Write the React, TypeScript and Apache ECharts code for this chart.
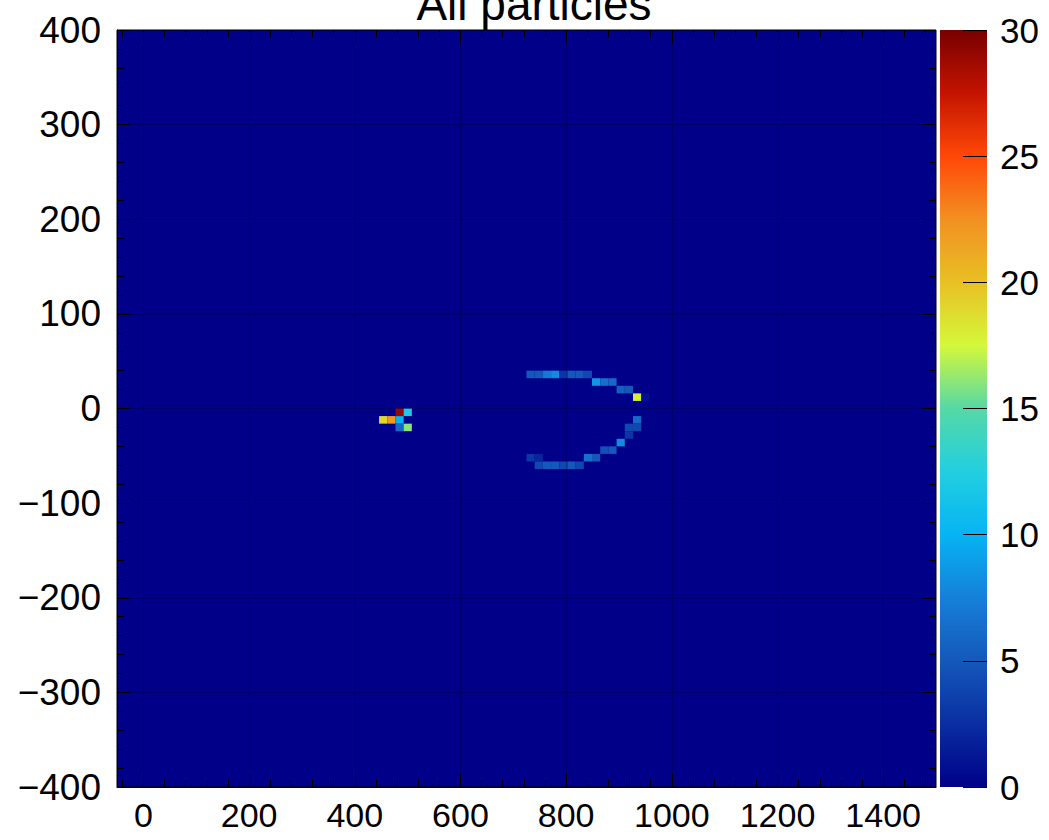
import React, { useEffect, useRef } from "react";
import * as echarts from "echarts";

// Histogram binning (axis definitions)
const X_MIN = -50;
const X_MAX = 1500;
const X_BINS = 100;
const Y_MIN = -400;
const Y_MAX = 400;
const Y_BINS = 100;

// Tick labels
const xMajorTicks = [0, 200, 400, 600, 800, 1000, 1200, 1400];
const xMinorTicks = [-40, 40, 80, 120, 160, 240, 280, 320, 360, 440, 480, 520, 560, 640, 680, 720, 760, 840, 880, 920, 960, 1040, 1080, 1120, 1160, 1240, 1280, 1320, 1360, 1440, 1480];
const colorbarMax = 30;

// Non-empty cells: bin indices and counts
const cellBinX = [32, 33, 34, 34, 35, 34, 35,
  50, 51, 52, 53, 54, 55, 56, 57,
  58, 59, 60,
  61, 62,
  63, 64,
  63,
  62, 63,
  62,
  61,
  59, 60,
  50, 51, 57, 58,
  51, 52, 53, 54, 55, 56];
const cellBinY = [48, 48, 48, 49, 49, 47, 47,
  54, 54, 54, 54, 54, 54, 54, 54,
  53, 53, 53,
  52, 52,
  51, 51,
  48,
  47, 47,
  46,
  45,
  44, 44,
  43, 43, 43, 43,
  42, 42, 42, 42, 42, 42];
const cellCount = [19, 22, 10, 29, 12, 6, 16,
  5, 5, 7, 8, 3, 5, 5, 4,
  8.5, 6.5, 6,
  5.5, 5,
  18, 1,
  6,
  4, 4,
  3,
  8,
  4.5, 5,
  3, 2, 6.5, 5,
  4, 5, 5, 4, 5, 4];

const palette = [
  "#000088", "#0a2ea2", "#1458ba", "#1680d8", "#06b4f4", "#22cfe0",
  "#55d9a6", "#d4f83a", "#e8c024", "#f29022", "#ff4808", "#c41400", "#780000",
];

const FONT = "Liberation Sans";
const minus = (v: number | string) => String(v).replace("-", "\u2212");

export default function App() {
  const ref = useRef<HTMLDivElement>(null);
  useEffect(() => {
    document.body.style.margin = "0";
    const chart = echarts.init(ref.current!, null, { renderer: "svg" });
    const dx = (X_MAX - X_MIN) / X_BINS;
    const dy = (Y_MAX - Y_MIN) / Y_BINS;
    const data = cellCount.map((c, k) => [X_MIN + cellBinX[k] * dx, Y_MIN + cellBinY[k] * dy, c]);

    const tickStyle = { color: "#000", width: 1 };
    const splitStyle = { color: "rgba(0,0,0,0.2)", width: 1 };
    const noLine = { show: false, onZero: false };

    const option: any = {
      animation: false,
      backgroundColor: "#fff",
      title: {
        text: "All particles",
        left: 529,
        textAlign: "center",
        top: -24,
        textStyle: { fontFamily: FONT, fontSize: 46, fontWeight: "normal", color: "#000" },
      },
      grid: [
        { left: 117, right: 113, top: 30, bottom: 53, show: true, backgroundColor: "#000088", borderColor: "#000", borderWidth: 1 },
        { left: 940, width: 47, top: 30, bottom: 53, show: false },
      ],
      xAxis: [
        {
          type: "value", gridIndex: 0, min: X_MIN, max: X_MAX, position: "bottom", z: 10,
          axisLine: { show: true, onZero: false, lineStyle: { color: "#000" } },
          axisTick: { show: true, inside: true, length: 13, customValues: xMajorTicks, lineStyle: tickStyle },
          axisLabel: { show: true, customValues: xMajorTicks, fontFamily: FONT, fontSize: 34, color: "#000", margin: 11, formatter: minus },
          splitLine: { show: true, lineStyle: splitStyle },
        },
        {
          type: "value", gridIndex: 0, min: X_MIN, max: X_MAX, position: "bottom", z: 10,
          axisLine: noLine,
          axisTick: { show: true, inside: true, length: 7, customValues: xMinorTicks, lineStyle: tickStyle },
          axisLabel: { show: false },
          splitLine: { show: false },
        },
        {
          type: "value", gridIndex: 0, min: X_MIN, max: X_MAX, position: "top", z: 10,
          axisLine: noLine,
          axisTick: { show: true, inside: true, length: 13, customValues: xMajorTicks, lineStyle: tickStyle },
          axisLabel: { show: false },
          splitLine: { show: false },
        },
        {
          type: "value", gridIndex: 0, min: X_MIN, max: X_MAX, position: "top", z: 10,
          axisLine: noLine,
          axisTick: { show: true, inside: true, length: 7, customValues: xMinorTicks, lineStyle: tickStyle },
          axisLabel: { show: false },
          splitLine: { show: false },
        },
        {
          type: "category", gridIndex: 1, data: ["z"], show: false,
        },
      ],
      yAxis: [
        {
          type: "value", gridIndex: 0, min: Y_MIN, max: Y_MAX, interval: 100, position: "left", z: 10,
          axisLine: { show: true, onZero: false, lineStyle: { color: "#000" } },
          axisTick: { show: true, inside: true, length: 13, lineStyle: tickStyle },
          minorTick: { show: true, splitNumber: 5, length: 7, lineStyle: tickStyle },
          axisLabel: { fontFamily: FONT, fontSize: 37, color: "#000", margin: 16, formatter: minus },
          splitLine: { show: true, lineStyle: splitStyle },
        },
        {
          type: "value", gridIndex: 0, min: Y_MIN, max: Y_MAX, interval: 100, position: "right", z: 10,
          axisLine: noLine,
          axisTick: { show: true, inside: true, length: 13, lineStyle: tickStyle },
          minorTick: { show: true, splitNumber: 5, length: 7, lineStyle: tickStyle },
          axisLabel: { show: false },
          splitLine: { show: false },
        },
        {
          type: "value", gridIndex: 1, min: 0, max: colorbarMax, interval: 5, position: "right", z: 10,
          axisLine: noLine,
          axisTick: { show: true, inside: true, length: 24, lineStyle: tickStyle },
          axisLabel: { fontFamily: FONT, fontSize: 35, color: "#000", margin: 13 },
          splitLine: { show: false },
        },
      ],
      visualMap: {
        type: "continuous", show: false, min: 0, max: colorbarMax, dimension: 2, seriesIndex: 0,
        inRange: { color: palette },
      },
      series: [
        {
          type: "custom",
          xAxisIndex: 0,
          yAxisIndex: 0,
          data,
          encode: { x: 0, y: 1 },
          renderItem: (params: any, api: any) => {
            const x0 = api.value(0);
            const y0 = api.value(1);
            const p1 = api.coord([x0, y0 + dy]);
            const p2 = api.coord([x0 + dx, y0]);
            return {
              type: "rect",
              shape: { x: p1[0], y: p1[1], width: p2[0] - p1[0], height: p2[1] - p1[1] },
              style: { fill: api.visual("color") },
            };
          },
          z: 3,
        },
        {
          type: "bar",
          xAxisIndex: 4,
          yAxisIndex: 2,
          data: [colorbarMax],
          barWidth: "100%",
          silent: true,
          itemStyle: {
            color: new echarts.graphic.LinearGradient(0, 1, 0, 0,
              palette.map((c, i) => ({ offset: i / (palette.length - 1), color: c }))),
          },
        },
      ],
    };
    chart.setOption(option);
    return () => chart.dispose();
  }, []);
  return <div ref={ref} style={{ width: 1049, height: 840 }} />;
}
